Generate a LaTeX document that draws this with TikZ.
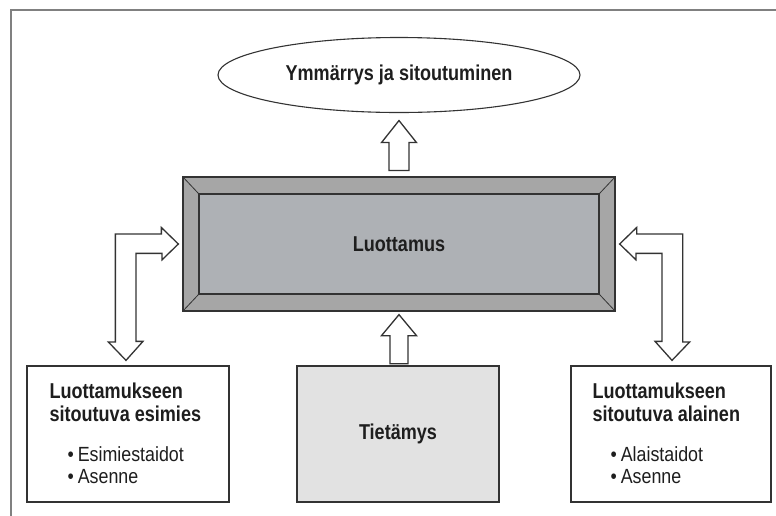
\documentclass[tikz,border=0pt]{standalone}
\usepackage{fontspec}
\setmainfont{Liberation Sans}
\newfontfamily\headfont{Liberation Sans}[FakeStretch=0.84]
\newfontfamily\itemfont{Liberation Sans}[FakeStretch=0.87]
\usetikzlibrary{calc,shapes.geometric}
\definecolor{bevel}{HTML}{A6A6A6}
\definecolor{innerg}{HTML}{AEB1B5}
\definecolor{lightg}{HTML}{E2E2E2}
\definecolor{linec}{HTML}{333333}
\definecolor{framec}{HTML}{808080}
\definecolor{txt}{HTML}{1E1E1E}
\tikzset{
  boxline/.style={draw=linec, line width=1.3pt},
  blockarrow/.style={draw=linec, line width=1.3pt, fill=white, line join=miter},
  bigtext/.style={font=\headfont\fontsize{21.5}{24}\selectfont\bfseries, text=txt},
  headtext/.style={font=\headfont\fontsize{21.5}{23}\selectfont\bfseries, text=txt, inner sep=0pt, align=left},
  itemtext/.style={font=\itemfont\fontsize{20.5}{22}\selectfont, text=txt, inner sep=0pt, align=left},
}
\begin{document}
\begin{tikzpicture}[x=1pt,y=-1pt]
\useasboundingbox (0,0) rectangle (776,515);
% frame
\draw[framec, line width=1.4pt] (11,520) -- (11,10) -- (780,10);
% ellipse
\node[ellipse, draw=linec, line width=1.1pt, minimum width=362pt, minimum height=75pt, inner sep=0pt, bigtext] (goal) at (399,75) {Ymmärrys ja sitoutuminen};
% Luottamus bevel box
\node[boxline, fill=bevel, minimum width=432pt, minimum height=134pt, inner sep=0pt] (luo) at (399,244) {};
\node[draw=linec, line width=1.3pt, fill=innerg, minimum width=400pt, minimum height=100pt, inner sep=0pt, bigtext] (luoin) at (399,244) {Luottamus};
\draw[linec, line width=0.8pt] (luo.north west) -- (luoin.north west);
\draw[linec, line width=0.8pt] (luo.north east) -- (luoin.north east);
\draw[linec, line width=0.8pt] (luo.south west) -- (luoin.south west);
\draw[linec, line width=0.8pt] (luo.south east) -- (luoin.south east);
% bottom boxes
\node[boxline, fill=white, minimum width=202pt, minimum height=136pt, inner sep=0pt] (lbox) at (128,434) {};
\node[boxline, fill=lightg, minimum width=202pt, minimum height=136pt, inner sep=0pt, bigtext] (tieto) at (398,434) {Tietämys};
\node[boxline, fill=white, minimum width=200pt, minimum height=136pt, inner sep=0pt] (rbox) at (671,434) {};
% texts in left box
\node[headtext, anchor=base west] (lhead) at ($(lbox.north west)+(23,56)$) {Luottamukseen\\sitoutuva esimies};
\node[itemtext, anchor=base west] (litems) at ($(lbox.north west)+(41,118)$) {•\hspace{4pt}Esimiestaidot\\•\hspace{4pt}Asenne};
% texts in right box
\node[headtext, anchor=base west] (rhead) at ($(rbox.north west)+(22,56)$) {Luottamukseen\\sitoutuva alainen};
\node[itemtext, anchor=base west] (ritems) at ($(rbox.north west)+(40,118)$) {•\hspace{4pt}Alaistaidot\\•\hspace{4pt}Asenne};
% up arrow to goal
\coordinate (t1) at ($(goal.south)+(0,7.5)$);
\draw[blockarrow] (t1) -- ++(17.5,22) -- ++(-7.5,0) -- ++(0,28) -- ++(-20,0) -- ++(0,-28) -- ++(-7.5,0) -- cycle;
% up arrow from Tietamys
\coordinate (t2) at ($(luo.south)+(0,3)$);
\draw[blockarrow] (t2) -- ++(17.5,21) -- ++(-8.5,0) -- ++(0,28) -- ++(-18,0) -- ++(0,-28) -- ++(-8.5,0) -- cycle;
% left elbow double arrow
\coordinate (lt) at ($(luo.west)+(-4,0)$);
\draw[blockarrow] (lt) -- ++(-17,-16.5) -- ++(0,6.5) -- ++(-46,0) -- ++(0,108) -- ++(-7,0)
   -- ($(lbox.north)+(-2,-5)$) -- ++(17,-19) -- ++(-7,0) -- ++(0,-88) -- ++(26,0) -- ++(0,6.5) -- cycle;
% right elbow double arrow
\coordinate (rt) at ($(luo.east)+(4,0)$);
\draw[blockarrow] (rt) -- ++(17,-16.5) -- ++(0,6.5) -- ++(46,0) -- ++(0,108) -- ++(7,0)
   -- ($(rbox.north)+(1,-5)$) -- ++(-17,-19) -- ++(7,0) -- ++(0,-88) -- ++(-26,0) -- ++(0,6.5) -- cycle;
\end{tikzpicture}
\end{document}
